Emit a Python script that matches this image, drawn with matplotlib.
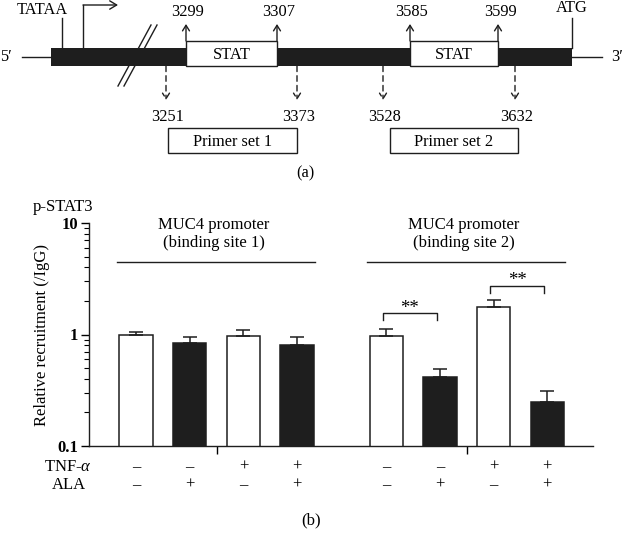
import matplotlib
matplotlib.use("Agg")
import matplotlib.pyplot as plt
from matplotlib.transforms import blended_transform_factory
from matplotlib.patches import Rectangle, FancyArrowPatch

plt.rcParams['font.family'] = ['Liberation Serif', 'DejaVu Serif']
plt.rcParams['mathtext.fontset'] = 'custom'
plt.rcParams['mathtext.rm'] = 'Liberation Serif'
plt.rcParams['mathtext.it'] = 'Liberation Serif:italic'

# ---------------- data ----------------
groups = ["MUC4 promoter\n(binding site 1)", "MUC4 promoter\n(binding site 2)"]
tnf = ["–", "–", "+", "+"]
ala = ["–", "+", "–", "+"]
site1_mean = [0.98, 0.84, 0.97, 0.80]
site1_err = [0.07, 0.10, 0.12, 0.14]
site2_mean = [0.97, 0.42, 1.76, 0.25]
site2_err = [0.16, 0.07, 0.26, 0.06]
sig_pairs = [(0, 1), (2, 3)]          # within site 2
sig_label = "**"
ytick_vals = [0.1, 1, 10]
ytick_labels = ["0.1", "1", "10"]

# schematic labels
up_labels = ["3299", "3307", "3585", "3599"]
down_labels = ["3251", "3373", "3528", "3632"]
primer_labels = ["Primer set 1", "Primer set 2"]

FS = 12
FSA = 11.8
BLACK = "#1e1e1e"

fig = plt.figure(figsize=(6.23, 5.4), dpi=100)
bg = fig.add_axes([0, 0, 1, 1])
bg.set_xlim(0, 623)
bg.set_ylim(540, 0)
bg.axis('off')

# ---------------- panel (a): schematic ----------------
lw = 1.0
ybar0, ybar1 = 48, 66
ybox0 = 41
# break marks (drawn beneath bar)
for dx in (0, 6):
    bg.plot([118 + dx, 151 + dx], [86, 25], color=BLACK, lw=lw, zorder=1)
# thin flanking lines
bg.plot([22, 51], [57, 57], color=BLACK, lw=lw, zorder=2)
bg.plot([572, 602], [57, 57], color=BLACK, lw=lw, zorder=2)
bg.text(6, 57, "5′", fontsize=FSA, ha='center', va='center')
bg.text(617, 57, "3′", fontsize=FSA, ha='center', va='center')
# black segments
for x0, x1 in [(51, 186), (277, 410), (498, 572)]:
    bg.add_patch(Rectangle((x0, ybar0), x1 - x0, ybar1 - ybar0, fc=BLACK, ec=BLACK, lw=0, zorder=3))
# STAT boxes
stat_boxes = [(186, 277), (410, 498)]
for x0, x1 in stat_boxes:
    bg.add_patch(Rectangle((x0, ybox0), x1 - x0, ybar1 - ybox0, fc='white', ec=BLACK, lw=lw, zorder=4))
    bg.text((x0 + x1) / 2, 55, "STAT", fontsize=FSA, ha='center', va='center', zorder=5)
# up arrows with labels
up_x = [stat_boxes[0][0], stat_boxes[0][1], stat_boxes[1][0], stat_boxes[1][1]]
for x, lab in zip(up_x, up_labels):
    bg.add_patch(FancyArrowPatch((x, ybox0), (x, 24), arrowstyle='->,head_length=4,head_width=2.5',
                                 color=BLACK, lw=lw, shrinkA=0, shrinkB=0, zorder=5))
    bg.text(x + 2, 12, lab, fontsize=FSA, ha='center', va='center')
# TATAA and ATG
bg.plot([62, 62], [ybar0, 18], color=BLACK, lw=lw)
bg.text(42, 9.5, "TATAA", fontsize=FSA, ha='center', va='center')
bg.plot([572, 572], [ybar0, 18], color=BLACK, lw=lw)
bg.text(572, 8.5, "ATG", fontsize=FSA, ha='center', va='center')
# transcription start arrow
bg.plot([83, 83], [ybar0, 5], color=BLACK, lw=lw)
bg.add_patch(FancyArrowPatch((83, 5), (118, 5), arrowstyle='->,head_length=5,head_width=3',
                             color=BLACK, lw=lw, shrinkA=0, shrinkB=0))
# dashed down arrows
down_x = [166, 297, 383, 515]
for x, lab in zip(down_x, down_labels):
    bg.add_patch(FancyArrowPatch((x, ybar1), (x, 100), arrowstyle='->,head_length=4,head_width=2.5',
                                 color=BLACK, lw=lw, ls=(0, (4, 3)), shrinkA=0, shrinkB=0))
    bg.text(x + 2, 117, lab, fontsize=FSA, ha='center', va='center')
# primer boxes
for (x0, x1), lab in zip([(168, 297), (390, 518)], primer_labels):
    bg.add_patch(Rectangle((x0, 128), x1 - x0, 25, fc='white', ec=BLACK, lw=lw))
    bg.text((x0 + x1) / 2, 142, lab, fontsize=FSA, ha='center', va='center')
bg.text(305, 173, "(a)", fontsize=FSA, ha='center', va='center')

# ---------------- panel (b): bar chart ----------------
L, R, T, B = 89, 593, 223, 446
ax = fig.add_axes([L / 623, 1 - B / 540, (R - L) / 623, (B - T) / 540])
unit = 53.7
ax.set_xlim((L - 136) / unit, (R - 136) / unit)
ax.set_yscale('log')
ax.set_ylim(0.1, 10)

gap = 4.66
all_means = [site1_mean, site2_mean]
all_errs = [site1_err, site2_err]
xs_all = []
tr = blended_transform_factory(ax.transData, bg.transData)
for g, (means, errs) in enumerate(zip(all_means, all_errs)):
    xs = [g * gap + i for i in range(len(means))]
    xs_all.append(xs)
    colors = ['white' if a == "–" else BLACK for a in ala]
    ax.bar(xs, means, width=0.62, color=colors, edgecolor=BLACK, linewidth=1.1, zorder=2)
    ax.errorbar(xs, means, yerr=[[0] * len(errs), errs], fmt='none', ecolor=BLACK,
                elinewidth=1.1, capsize=5, capthick=1.1, zorder=3)
    # group line and title
    ax.plot([xs[0] - 0.36, xs[-1] + 0.33], [4.5, 4.5], color=BLACK, lw=1.0, clip_on=False)
    ax.text((xs[0] + xs[-1]) / 2 - 0.05, 8.0, groups[g], fontsize=FS, ha='center', va='center',
            linespacing=1.2)
    # row signs
    for x, t, a in zip(xs, tnf, ala):
        ax.text(x, 467, t, fontsize=FS, ha='center', va='center', transform=tr)
        ax.text(x, 485, a, fontsize=FS, ha='center', va='center', transform=tr)

# significance brackets (site 2)
br_top = [1.55, 2.75]
br_leg = [1.34, 2.38]
xs2 = xs_all[1]
for (i, j), yt, yl in zip(sig_pairs, br_top, br_leg):
    x0, x1 = xs2[i] - 0.06, xs2[j] - 0.06
    ax.plot([x0, x0, x1, x1], [yl, yt, yt, yl], color=BLACK, lw=1.0, zorder=4)
    ax.text((x0 + x1) / 2, yt * 1.01, sig_label, fontsize=13.5, ha='center', va='baseline')

# axes styling
for s in ['top', 'right']:
    ax.spines[s].set_visible(False)
for s in ['left', 'bottom']:
    ax.spines[s].set_linewidth(1.0)
    ax.spines[s].set_color(BLACK)
ax.set_yticks(ytick_vals)
ax.set_yticklabels(ytick_labels, fontsize=FS, fontweight='bold')
ax.tick_params(axis='y', which='major', length=6, width=1.0, direction='out', pad=2)
ax.tick_params(axis='y', which='minor', length=3.5, width=0.8, direction='out')
mids = [(xs[1] + xs[2]) / 2 for xs in xs_all]
ax.set_xticks(mids)
ax.set_xticklabels([])
ax.tick_params(axis='x', length=6, width=1.0, direction='out')
ax.set_ylabel("Relative recruitment (/IgG)", fontsize=FS, labelpad=5)

bg.text(63, 207, "p-STAT3", fontsize=FS, ha='center', va='center')
bg.text(68, 467, "TNF-$\\alpha$", fontsize=FS, ha='center', va='center')
bg.text(69, 485, "ALA", fontsize=FS, ha='center', va='center')
bg.text(311, 520, "(b)", fontsize=FS, ha='center', va='center')

fig.savefig("out.png", dpi=100)
